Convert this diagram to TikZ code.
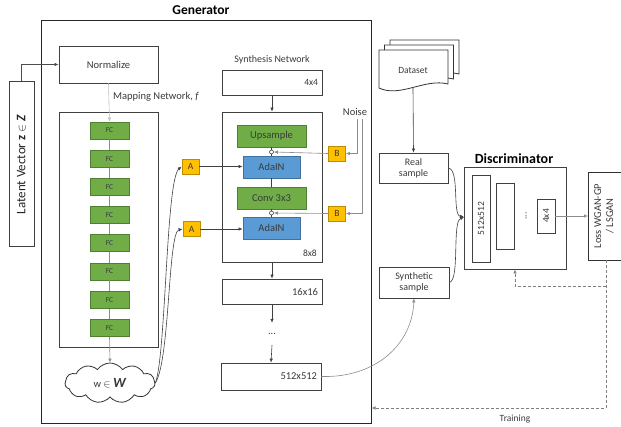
\documentclass[tikz,border=0pt]{standalone}
\usepackage{fontspec}
\setmainfont{Carlito}
\usetikzlibrary{arrows.meta,shapes.symbols}
\definecolor{gfill}{HTML}{70AD47}
\definecolor{gdraw}{HTML}{507E32}
\definecolor{bfill}{HTML}{5B9BD5}
\definecolor{bdraw}{HTML}{41719C}
\definecolor{yfill}{HTML}{FFC000}
\definecolor{ydraw}{HTML}{BC8C00}
\definecolor{txt}{HTML}{3A3A3A}
\begin{document}
\begin{tikzpicture}[x=1pt,y=-1pt,
  >={Latex[length=4pt,width=3.5pt]},
  box/.style={draw=black!75,line width=0.8pt,fill=white,inner sep=0pt,text=txt,font=\fontsize{10.5}{11.5}\selectfont},
  gbox/.style={draw=gdraw,line width=0.8pt,fill=gfill,inner sep=0pt,text=txt,font=\fontsize{10.5}{11.5}\selectfont},
  fcbox/.style={gbox,minimum width=39pt,minimum height=17pt,font=\fontsize{7.5}{8}\selectfont},
  bbox/.style={draw=bdraw,line width=0.8pt,fill=bfill,inner sep=0pt,text=txt,font=\fontsize{10.5}{11.5}\selectfont,minimum width=57pt,minimum height=22pt},
  ybox/.style={draw=ydraw,line width=0.8pt,fill=yfill,inner sep=0pt,text=txt,font=\fontsize{9.5}{10}\selectfont,minimum width=17pt,minimum height=15pt},
  lbl/.style={text=txt,inner sep=0pt,font=\fontsize{10.5}{11.5}\selectfont},
  conn/.style={draw=black!75,line width=0.6pt},
  gconn/.style={draw=black!45,line width=0.6pt},
  dconn/.style={draw=black!50,line width=0.7pt,dash pattern=on 3pt off 2pt},
  junc/.style={circle,draw=black!75,fill=white,inner sep=0pt,minimum size=4pt,line width=0.6pt}
]
\useasboundingbox (0,0) rectangle (621,426);

% Generator
\node[draw=black!85,line width=1pt,minimum width=330pt,minimum height=403pt,inner sep=0pt] (gen) at (206,221.5) {};
\node[font=\fontsize{13.5}{14}\selectfont\bfseries,inner sep=0pt] (gentitle) at (201,10) {Generator};

% Latent vector
\node[box,minimum width=25pt,minimum height=165pt] (lat) at (21.5,163.5) {};
\node[lbl,rotate=90,font=\fontsize{13}{14}\selectfont,text=black!85] (lattxt) at (21.5,164.5) {Latent Vector \textbf{z} $\in$ \textbf{\textit{Z}}};

% Mapping network
\node[box,minimum width=99pt,minimum height=37pt] (norm) at (108.5,64.5) {Normalize};
\node[lbl,anchor=west] (maplbl) at (113,97) {Mapping Network, \textit{f}};
\node[box,minimum width=99pt,minimum height=235pt] (map) at (108.5,229.5) {};
\foreach \i in {1,...,8}{
  \node[fcbox] (fc\i) at (109.5,{130.5+28.2*(\i-1)}) {FC};
}
\draw[gconn,draw=black!25,->] (norm.south) -- (fc1.north);
\foreach \i/\j in {1/2,2/3,3/4,4/5,5/6,6/7,7/8}{
  \draw[gconn] (fc\i.south) -- (fc\j.north);
}
\node[cloud,cloud puffs=11,cloud puff arc=110,aspect=2.3,draw=black!80,line width=0.8pt,fill=white,minimum width=90pt,minimum height=40pt,inner sep=0pt,text=txt,font=\fontsize{10.5}{11.5}\selectfont] (w) at (110,383) {w $\in$ {\fontsize{14}{15}\selectfont\textbf{\textit{W}}}};
\draw[gconn,->] (fc8.south) -- (w.north);
\draw[conn,draw=black!70,->] (lat.north) |- (norm.west);

% Synthesis network
\node[lbl,font=\fontsize{10}{11}\selectfont] (synlbl) at (272,60) {Synthesis Network};
\node[box,minimum width=100pt,minimum height=25pt,text width=92pt,align=right,font=\fontsize{9.5}{10}\selectfont] (s4) at (272,82.5) {4x4};
\node[box,minimum width=100pt,minimum height=150pt] (blk) at (272,187) {};
\node[lbl,anchor=south east,font=\fontsize{9.5}{10}\selectfont] (l8) at (317,257) {8x8};
\node[gbox,minimum width=69pt,minimum height=22pt] (ups) at (271.5,136) {Upsample};
\node[bbox] (ada1) at (271.5,167) {AdaIN};
\node[gbox,minimum width=69pt,minimum height=22pt] (conv) at (271.5,198) {Conv 3x3};
\node[bbox] (ada2) at (271.5,228) {AdaIN};
\node[junc] (c1) at (271.5,152) {};
\node[junc] (c2) at (271.5,213) {};
\draw[conn] (ups.south) -- (c1.north);
\draw[conn] (c1.south) -- (ada1.north);
\draw[conn] (ada1.south) -- (conv.north);
\draw[conn] (conv.south) -- (c2.north);
\draw[conn] (c2.south) -- (ada2.north);
\draw[conn,->] (s4.south) -- (blk.north);

\node[box,minimum width=100pt,minimum height=25pt,text width=92pt,align=right] (s16) at (272,291.5) {16x16};
\node[lbl,minimum height=22pt] (vdots) at (272,334) {...};
\node[box,minimum width=100pt,minimum height=27pt,text width=92pt,align=right] (s512) at (271,376.5) {512x512};
\draw[conn,->] (blk.south) -- (s16.north);
\draw[conn,->] (s16.south) -- (vdots.north);
\draw[conn,->] (vdots.south) -- (s512.north);

% A and B
\node[ybox] (A1) at (190.5,166.5) {A};
\node[ybox] (A2) at (191.5,229) {A};
\node[ybox] (B1) at (337,153.5) {B};
\node[ybox] (B2) at (337,213.5) {B};
\draw[conn,->] (A1.east) -- (A1.east -| ada1.west);
\draw[conn,->] (A2.east) -- (A2.east -| ada2.west);
\draw[gconn,->] (B1.west) -- (c1.east);
\draw[gconn,->] (B2.west) -- (c2.east);
\node[lbl] (noise) at (355,112) {Noise};
\coordinate (n1) at (357,119);
\coordinate (n2) at (362,119);
\draw[gconn,->] (n1) |- (B1.east);
\draw[gconn,->] (n2) |- (B2.east);
\draw[conn,->] (w.east) .. controls (170,360) and (168,232) .. (A2.west);
\draw[conn,->] (w.east) .. controls (166,355) and (166,180) .. (A1.west);

% Dataset
\foreach \dx/\dy in {11/-10,5.5/-5,0/0}{
  \draw[draw=black!80,line width=0.8pt,fill=white,shift={(\dx,\dy)}]
    (379,50) -- (448,50) -- (448,84) .. controls (425,78) and (400,98) .. (379,88) -- cycle;
}
\node[lbl,font=\fontsize{9.5}{10}\selectfont] (ds) at (413,70) {Dataset};
\coordinate (dsb) at (413,88);
\node[box,minimum width=69pt,minimum height=30pt,align=center,font=\fontsize{10}{11}\selectfont] (real) at (413.5,168) {Real\\sample};
\node[box,minimum width=70pt,minimum height=31pt,align=center,font=\fontsize{10}{11}\selectfont] (synth) at (414,282.5) {Synthetic\\sample};
\draw[conn,->] (dsb) -- (real.north);

% Discriminator
\node[font=\fontsize{14}{15}\selectfont\bfseries,inner sep=0pt] (disctitle) at (514,159) {Discriminator};
\node[box,minimum width=102pt,minimum height=102pt] (disc) at (515,218) {};
\node[box,minimum width=18pt,minimum height=87pt] (d512) at (481,218.5) {};
\node[lbl,rotate=90,font=\fontsize{9.5}{10}\selectfont] at (481,218.5) {512x512};
\node[box,minimum width=18pt,minimum height=66pt] (d2) at (505,216) {};
\node[lbl,rotate=90,font=\fontsize{9.5}{10}\selectfont] (ddots) at (526,216) {...};
\node[box,minimum width=18pt,minimum height=34pt] (d4) at (546,216) {};
\node[lbl,rotate=90,font=\fontsize{9.5}{10}\selectfont] at (546,216) {4x4};
\draw[conn,draw=black!80] (625,172) -- (588,172) -- (588,260) -- (625,260);
\coordinate (lossw) at (588,216);
\node[lbl,rotate=90,align=center,font=\fontsize{10.5}{12}\selectfont] (losst) at (604,216) {Loss WGAN-GP\\/ LSGAN};
\draw[gconn,->] (d4.east) -- (lossw);
\coordinate (dj) at (464,217);
\draw[conn,->] (real.east) .. controls (460,170) and (452,215) .. (dj);
\draw[conn,->] (synth.east) .. controls (460,280) and (452,222) .. (dj);
\draw[gconn,->] (s512.east) .. controls (375,378) and (412,345) .. (synth.south);

% Training loops
\coordinate (lb) at (606,260);
\coordinate (tr) at (606,408);
\coordinate (br) at (606,286);
\draw[dconn,->] (lb) -- (tr) -- (tr -| gen.east);
\draw[dconn,->] (br) -| (disc.south);
\node[lbl,font=\fontsize{9.5}{10}\selectfont] (train) at (515,419) {Training};
\end{tikzpicture}
\end{document}
